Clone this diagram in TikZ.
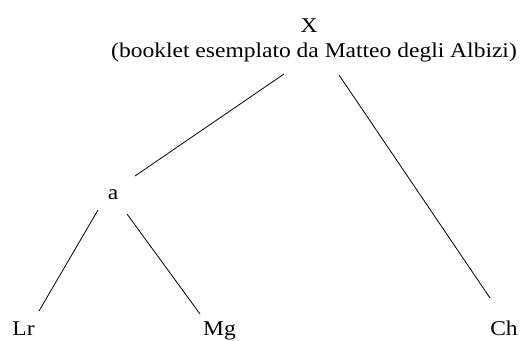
\documentclass[tikz,border=0pt]{standalone}
\usepackage{fontspec}
\setmainfont[FakeStretch=1.12]{Liberation Serif}
\begin{document}
\begin{tikzpicture}[x=1pt,y=-1pt,
  lbl/.style={anchor=base,inner sep=0pt,font=\fontsize{21}{25}\selectfont},
  edge/.style={draw=black,line width=0.8pt}]
\useasboundingbox (0,0) rectangle (522,340);
\node[lbl] (X) at (309,32) {X};
\node[lbl] (sub) at (314,57) {(booklet esemplato da Matteo degli Albizi)};
\node[lbl] (a) at (113,199) {a};
\node[lbl] (Lr) at (23.5,335) {Lr};
\node[lbl] (Mg) at (219.5,335) {Mg};
\node[lbl] (Ch) at (504,335) {Ch};
\coordinate (xa) at (284,74);
\coordinate (ax) at (135,176);
\coordinate (xc) at (339,75);
\coordinate (cx) at (490,298);
\coordinate (al) at (98,210);
\coordinate (la) at (39,311);
\coordinate (am) at (127,214);
\coordinate (ma) at (200,314);
\draw[edge] (xa) -- (ax);
\draw[edge] (xc) -- (cx);
\draw[edge] (al) -- (la);
\draw[edge] (am) -- (ma);
\end{tikzpicture}
\end{document}
